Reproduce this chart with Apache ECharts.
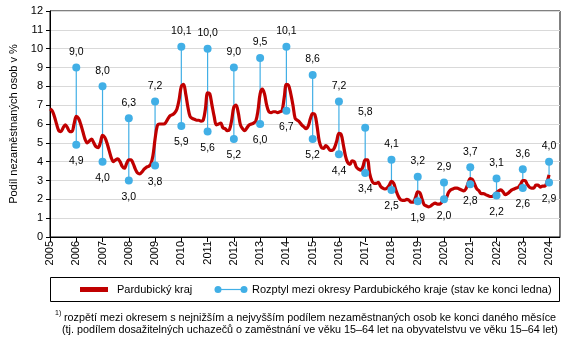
<!DOCTYPE html>
<html>
<head>
<meta charset="utf-8">
<script src="https://cdn.jsdelivr.net/npm/echarts@6/dist/echarts.min.js"></script>
<style>
  html, body { margin: 0; padding: 0; background: #fff; }
  #chart { width: 567px; height: 343px; }
</style>
</head>
<body>
<div id="chart"></div>
<script>
// Monthly categories: January 2005 to June 2024 (axis runs a few months past the last value)
const startYear = 2005;
const monthCount = 234;
const months = [];
for (let i = 0; i < monthCount; i++) {
  const y = startYear + Math.floor(i / 12);
  const m = (i % 12) + 1;
  months.push(y + '-' + (m < 10 ? '0' + m : m));
}

// Share of unemployed persons, Pardubice Region, end of month (%), Jan 2005 – Jan 2024
const regionRate = [
  6.8, 6.7, 6.4, 6.0, 5.65, 5.6, 5.8, 5.95, 5.8, 5.6, 5.6, 6.0,      // 2005
  6.4, 6.3, 6.0, 5.6, 5.2, 5.0, 5.1, 5.2, 5.0, 4.8, 4.75, 5.0,        // 2006
  5.4, 5.3, 5.0, 4.6, 4.2, 4.0, 4.1, 4.15, 4.0, 3.75, 3.65, 3.9,      // 2007
  4.1, 4.1, 3.9, 3.6, 3.4, 3.35, 3.45, 3.6, 3.7, 3.75, 3.85, 4.3,     // 2008
  5.2, 5.9, 6.0, 6.0, 6.0, 6.1, 6.3, 6.45, 6.5, 6.6, 6.8, 7.3,        // 2009
  8.0, 8.1, 7.6, 6.9, 6.4, 6.3, 6.25, 6.2, 6.2, 6.15, 6.2, 6.8,       // 2010
  7.65, 7.6, 7.0, 6.4, 5.95, 6.0, 6.05, 5.8, 5.75, 5.65, 5.7, 6.2,    // 2011
  6.9, 7.0, 6.6, 5.95, 5.75, 5.65, 5.8, 5.95, 6.0, 6.05, 6.15, 6.7,   // 2012
  7.6, 7.85, 7.6, 7.0, 6.65, 6.6, 6.65, 6.65, 6.6, 6.65, 6.7, 7.4,    // 2013
  8.1, 8.05, 7.6, 7.0, 6.3, 6.2, 6.1, 5.95, 5.85, 5.75, 5.9, 6.3,     // 2014
  6.55, 6.5, 5.9, 5.1, 4.75, 4.7, 4.85, 4.75, 4.6, 4.6, 4.75, 5.1,    // 2015
  5.5, 5.45, 4.9, 4.3, 3.95, 3.85, 4.05, 4.0, 3.7, 3.6, 3.55, 3.75,   // 2016
  4.1, 4.1, 3.4, 3.0, 2.85, 2.85, 2.9, 2.7, 2.6, 2.55, 2.6, 2.75,     // 2017
  2.95, 2.85, 2.5, 2.2, 2.0, 1.95, 1.95, 2.0, 1.95, 1.85, 1.85, 2.1,  // 2018
  2.4, 2.35, 2.0, 1.7, 1.65, 1.6, 1.65, 1.75, 1.8, 1.75, 1.75, 1.85,  // 2019
  2.0, 2.05, 2.35, 2.5, 2.55, 2.6, 2.6, 2.55, 2.5, 2.45, 2.55, 2.85,  // 2020
  3.1, 3.05, 2.8, 2.55, 2.45, 2.3, 2.3, 2.25, 2.2, 2.15, 2.15, 2.25,  // 2021
  2.35, 2.45, 2.5, 2.4, 2.25, 2.3, 2.4, 2.5, 2.55, 2.6, 2.65, 2.8,    // 2022
  3.0, 3.0, 2.8, 2.65, 2.6, 2.6, 2.75, 2.75, 2.65, 2.7, 2.7, 2.9,     // 2023
  3.3                                                                 // 2024
];

// District spread at the end of January (lowest and highest district share, %)
const rangeYears = [2006, 2007, 2008, 2009, 2010, 2011, 2012, 2013, 2014, 2015,
                    2016, 2017, 2018, 2019, 2020, 2021, 2022, 2023, 2024];
const rangeMax = [9.0, 8.0, 6.3, 7.2, 10.1, 10.0, 9.0, 9.5, 10.1, 8.6,
                  7.2, 5.8, 4.1, 3.2, 2.9, 3.7, 3.1, 3.6, 4.0];
const rangeMin = [4.9, 4.0, 3.0, 3.8, 5.9, 5.6, 5.2, 6.0, 6.7, 5.2,
                  4.4, 3.4, 2.5, 1.9, 2.0, 2.8, 2.2, 2.6, 2.9];

const yTicks = { min: 0, max: 12, interval: 1 };

const RED = '#c00000';
const BLUE = '#41afe6';
const FONT = 'Liberation Sans';

const janKey = y => y + '-01';
const spreadData = rangeYears.map((y, i) => [janKey(y), rangeMin[i], rangeMax[i]]);
const maxData = rangeYears.map((y, i) => [janKey(y), rangeMax[i]]);
const minData = rangeYears.map((y, i) => [janKey(y), rangeMin[i]]);
const fmt = v => v.toFixed(1).replace('.', ',');
const isJanuary = idx => idx % 12 === 0;

const chart = echarts.init(document.getElementById('chart'), null, { renderer: 'canvas' });

chart.setOption({
  animation: false,
  textStyle: { fontFamily: FONT },
  grid: {
    left: 50, right: 7, top: 11, bottom: 106,
    show: true, borderColor: '#000', borderWidth: 1, backgroundColor: 'transparent'
  },
  xAxis: {
    type: 'category',
    data: months,
    boundaryGap: false,
    axisLine: { show: true, lineStyle: { color: '#000', width: 1 } },
    axisTick: { show: true, interval: isJanuary, length: 5, lineStyle: { color: '#000' } },
    axisLabel: {
      interval: isJanuary,
      rotate: 90,
      margin: 4,
      fontSize: 11,
      color: '#000',
      fontFamily: FONT,
      formatter: v => v.slice(0, 4)
    },
    splitLine: { show: false }
  },
  yAxis: {
    type: 'value',
    min: yTicks.min, max: yTicks.max, interval: yTicks.interval,
    name: 'Podíl nezaměstnaných osob v %',
    nameLocation: 'middle',
    nameGap: 27,
    nameTextStyle: { fontSize: 11, color: '#000', fontFamily: FONT },
    axisLine: { show: true, lineStyle: { color: '#000', width: 1 } },
    axisTick: { show: true, length: 4, lineStyle: { color: '#000' } },
    axisLabel: { fontSize: 11, color: '#000', margin: 7, fontFamily: FONT },
    splitLine: { show: true, lineStyle: { color: '#d9d9d9', width: 1 } }
  },
  series: [
    {
      name: 'Rozptyl',
      type: 'custom',
      z: 1,
      data: spreadData,
      encode: { x: 0, y: [1, 2] },
      renderItem: (params, api) => {
        const lo = api.coord([api.value(0), api.value(1)]);
        const hi = api.coord([api.value(0), api.value(2)]);
        return {
          type: 'line',
          shape: { x1: lo[0], y1: lo[1], x2: hi[0], y2: hi[1] },
          style: { stroke: BLUE, lineWidth: 1.2 }
        };
      }
    },
    {
      name: 'Pardubický kraj',
      type: 'line',
      z: 2,
      data: regionRate,
      showSymbol: false,
      smooth: 0.35,
      lineStyle: { color: RED, width: 3.2 },
      itemStyle: { color: RED }
    },
    {
      name: 'Maximum',
      type: 'scatter',
      z: 3,
      data: maxData,
      symbolSize: 8,
      itemStyle: { color: BLUE, opacity: 1 },
      label: {
        show: true, position: 'top', distance: 6,
        fontSize: 10.5, color: '#000', fontFamily: FONT,
        formatter: p => fmt(p.value[1])
      }
    },
    {
      name: 'Minimum',
      type: 'scatter',
      z: 3,
      data: minData,
      symbolSize: 8,
      itemStyle: { color: BLUE, opacity: 1 },
      label: {
        show: true, position: 'bottom', distance: 7,
        fontSize: 10.5, color: '#000', fontFamily: FONT,
        formatter: p => fmt(p.value[1])
      }
    }
  ],
  graphic: [
    // legend frame
    { type: 'rect', shape: { x: 50.5, y: 277.5, width: 509, height: 24 },
      style: { fill: '#fff', stroke: '#000', lineWidth: 1 } },
    { type: 'rect', shape: { x: 80, y: 287, width: 28, height: 5 }, style: { fill: RED } },
    { type: 'text', x: 117, y: 289.5,
      style: { text: 'Pardubický kraj', font: '11px "' + FONT + '"', fill: '#000', verticalAlign: 'middle' } },
    { type: 'line', shape: { x1: 218, y1: 289.5, x2: 244, y2: 289.5 }, style: { stroke: BLUE, lineWidth: 1.2 } },
    { type: 'circle', shape: { cx: 218, cy: 289.5, r: 3.5 }, style: { fill: BLUE } },
    { type: 'circle', shape: { cx: 244, cy: 289.5, r: 3.5 }, style: { fill: BLUE } },
    { type: 'text', x: 252, y: 289.5,
      style: { text: 'Rozptyl mezi okresy Pardubického kraje (stav ke konci ledna)', font: '11px "' + FONT + '"', fill: '#000', verticalAlign: 'middle' } },
    // footnote
    { type: 'text', x: 55, y: 313,
      style: { text: '1)', font: '7px "' + FONT + '"', fill: '#000', verticalAlign: 'middle' } },
    { type: 'text', x: 64, y: 318,
      style: { text: 'rozpětí mezi okresem s nejnižším a nejvyšším podílem nezaměstnaných osob ke konci daného měsíce', font: '10.8px "' + FONT + '"', fill: '#000', verticalAlign: 'middle' } },
    { type: 'text', x: 62, y: 330,
      style: { text: '(tj. podílem dosažitelných uchazečů o zaměstnání ve věku 15–64 let na obyvatelstvu ve věku 15–64 let)', font: '10.8px "' + FONT + '"', fill: '#000', verticalAlign: 'middle' } }
  ]
});
</script>
</body>
</html>
